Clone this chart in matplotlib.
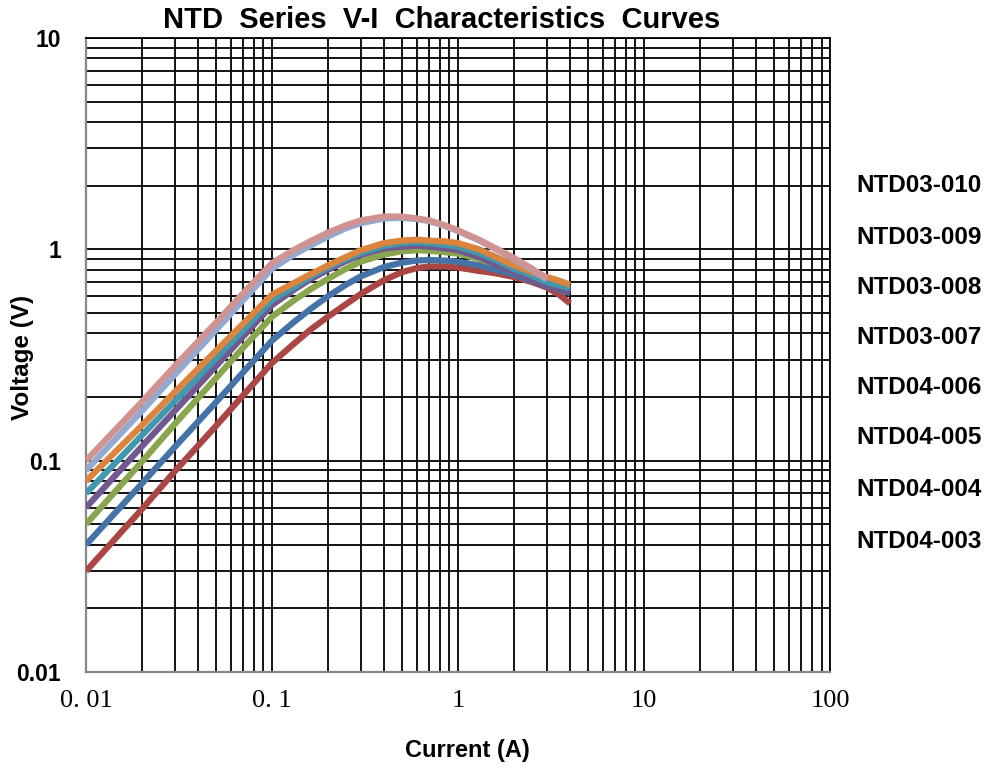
import numpy as np
import matplotlib.pyplot as plt
from matplotlib.ticker import FixedLocator, NullFormatter

# current (A) sample points
current = [0.01, 0.02, 0.03, 0.05, 0.07, 0.1, 0.13, 0.16, 0.2, 0.25, 0.3, 0.4,
           0.5, 0.6, 0.7, 0.85, 1, 1.3, 1.6, 2, 2.5, 3, 3.5, 4]

# voltage (V) per part
v_03_010 = [0.10, 0.19, 0.28, 0.45, 0.62, 0.86, 0.99, 1.09, 1.20, 1.30, 1.37, 1.43,
            1.43, 1.40, 1.37, 1.30, 1.23, 1.11, 1.01, 0.91, 0.81, 0.73]
v_03_009 = [0.09, 0.172, 0.255, 0.415, 0.575, 0.81, 0.94, 1.04, 1.15, 1.26, 1.33, 1.40,
            1.41, 1.39, 1.36, 1.29, 1.22, 1.10, 1.00, 0.90, 0.80, 0.72]
v_03_008 = [0.08, 0.147, 0.211, 0.331, 0.445, 0.61, 0.69, 0.76, 0.84, 0.92, 0.99, 1.07,
            1.10, 1.11, 1.10, 1.09, 1.07, 1.00, 0.92, 0.84, 0.78, 0.74, 0.71, 0.68]
v_03_007 = [0.07, 0.132, 0.191, 0.305, 0.414, 0.575, 0.66, 0.74, 0.82, 0.90, 0.96, 1.04,
            1.07, 1.08, 1.07, 1.05, 1.03, 0.96, 0.89, 0.81, 0.75, 0.70, 0.675, 0.655]
v_04_006 = [0.06, 0.117, 0.172, 0.28, 0.387, 0.545, 0.64, 0.72, 0.80, 0.88, 0.94, 1.01,
            1.03, 1.04, 1.03, 1.01, 0.99, 0.92, 0.85, 0.78, 0.72, 0.67, 0.65, 0.63]
v_04_005 = [0.05, 0.099, 0.149, 0.246, 0.343, 0.48, 0.57, 0.645, 0.725, 0.81, 0.875, 0.945,
            0.98, 0.99, 0.985, 0.97, 0.955, 0.90, 0.85, 0.79, 0.73, 0.69, 0.66, 0.64]
v_04_004 = [0.04, 0.078, 0.116, 0.189, 0.262, 0.37, 0.45, 0.52, 0.60, 0.68, 0.745, 0.825,
            0.865, 0.885, 0.89, 0.885, 0.874, 0.84, 0.80, 0.76, 0.71, 0.67, 0.645, 0.62]
v_04_003 = [0.03, 0.059, 0.089, 0.146, 0.204, 0.29, 0.355, 0.415, 0.48, 0.55, 0.615, 0.715,
            0.78, 0.815, 0.83, 0.83, 0.82, 0.79, 0.77, 0.74, 0.70, 0.66, 0.61, 0.555]

names = ['NTD04-003', 'NTD04-004', 'NTD04-005', 'NTD04-006',
         'NTD03-007', 'NTD03-008', 'NTD03-009', 'NTD03-010']
series = [v_04_003, v_04_004, v_04_005, v_04_006, v_03_007, v_03_008, v_03_009, v_03_010]
colors = ['#AA4643', '#4572A7', '#89A54E', '#71588F',
          '#4198AF', '#DB843D', '#93A9CF', '#D19392']

fig = plt.figure(figsize=(9.86, 7.69), dpi=100)
ax = fig.add_axes([0.0872, 0.1261, 0.7546, 0.8245])

for v, c, n in zip(series, colors, names):
    ax.plot(current[:len(v)], v, color=c, lw=4.5, solid_capstyle='butt',
            solid_joinstyle='round', label=n, zorder=3)

ax.set_xscale('log')
ax.set_yscale('log')
ax.set_xlim(0.01, 100)
ax.set_ylim(0.01, 10)

# grid on every 1..9 step of each decade
xmin = [m * 10.0 ** e for e in range(-2, 2) for m in range(2, 10)]
ymin = [m * 10.0 ** e for e in range(-2, 1) for m in range(2, 10)]
ax.xaxis.set_minor_locator(FixedLocator(xmin))
ax.yaxis.set_minor_locator(FixedLocator(ymin))
ax.xaxis.set_minor_formatter(NullFormatter())
ax.yaxis.set_minor_formatter(NullFormatter())
ax.grid(True, which='both', color='black', lw=1.3, zorder=1)
ax.tick_params(which='both', length=0)

ax.set_xticks([0.01, 0.1, 1, 10, 100])
ax.set_xticklabels(['0. 01', '0. 1', '1', '10', '100'],
                   family='Liberation Serif', fontsize=19)
ax.set_yticks([0.01, 0.1, 1, 10])
ax.set_yticklabels(['0.01', '0.1', '1', '10'],
                   family='Liberation Sans', fontsize=16.5, fontweight='bold')
ax.tick_params(axis='x', pad=13)
ax.tick_params(axis='y', pad=18)

for s in ['left', 'bottom']:
    ax.spines[s].set_color('#888888')
    ax.spines[s].set_linewidth(1.6)
for s in ['top', 'right']:
    ax.spines[s].set_color('black')
    ax.spines[s].set_linewidth(1.3)

fig.text(467 / 986, 1 - 750 / 769, 'Current (A)', ha='center', va='center',
         family='Liberation Sans', fontsize=17, fontweight='bold')
fig.text(22 / 986, 1 - 357 / 769, 'Voltage (V)', ha='center', va='center',
         rotation=90, family='Liberation Sans', fontsize=17.5, fontweight='bold')

fig.text(442 / 986, 1 - 20 / 769, 'NTD  Series  V-I  Characteristics  Curves',
         ha='center', va='center', family='Liberation Sans', fontsize=21,
         fontweight='bold')

# part names listed at the right
label_y = [186, 237, 287, 337, 388, 438, 489, 541]
for n, yy in zip(names[::-1], label_y):
    fig.text(856 / 986, 1 - yy / 769, n, ha='left', va='center',
             family='Liberation Sans', fontsize=17.5, fontweight='bold')

fig.savefig('out.png', dpi=100)
